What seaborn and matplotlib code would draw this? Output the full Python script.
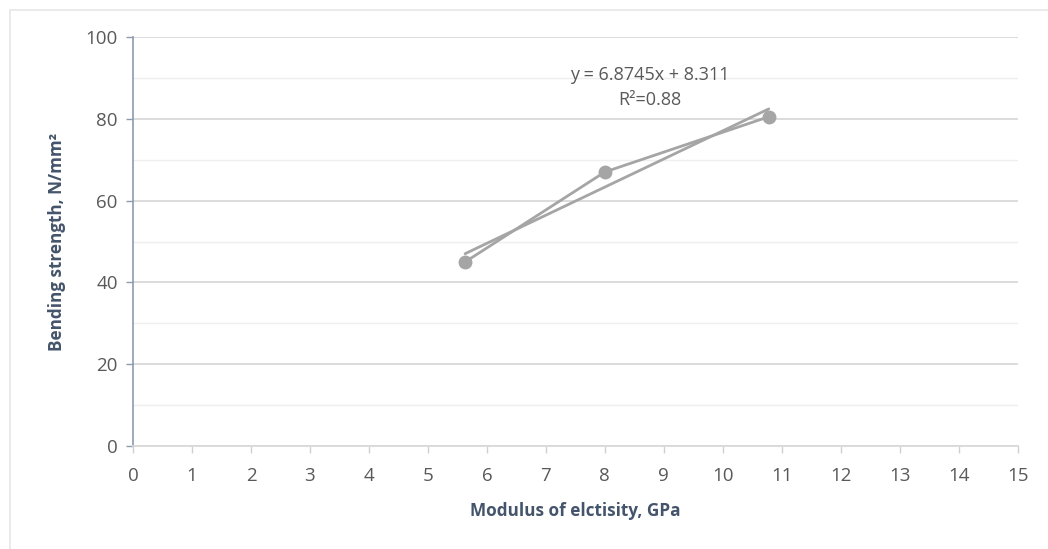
import matplotlib
matplotlib.use("Agg")
import matplotlib.pyplot as plt
import seaborn as sns
import pandas as pd
import numpy as np
from matplotlib.patches import Rectangle

# Data
modulus = [5.63, 8.0, 10.78]
strength = [45.0, 67.0, 80.5]
slope = 6.8745
intercept = 8.311
r2_text = "0.88"
x_ticks = list(range(0, 16))
y_ticks = [0, 20, 40, 60, 80, 100]

sns.set_theme(style="white")
plt.rcParams['font.family'] = ['Open Sans', 'DejaVu Sans']

fig = plt.figure(figsize=(10.48, 5.49), dpi=100)
ax = fig.add_axes([0.127, 0.1876, 0.844, 0.745])

# figure frame
fig.patches.append(Rectangle((10/1048, -0.01), 1.02, 1 - 10/549 + 0.01,
                             transform=fig.transFigure, fill=False,
                             edgecolor="#E6E6E6", linewidth=1.2))

df = pd.DataFrame({"x": modulus, "y": strength})
line_col = "#A5A5A5"
sns.lineplot(data=df, x="x", y="y", ax=ax, sort=False, color=line_col,
             linewidth=2.0, marker="o", markersize=10, markeredgewidth=0, zorder=3)

trend = pd.DataFrame({"x": [min(modulus), max(modulus)]})
trend["y"] = slope * trend["x"] + intercept
sns.lineplot(data=trend, x="x", y="y", ax=ax, color=line_col, linewidth=2.0, zorder=3)

ax.set_xlim(0, 15)
ax.set_ylim(0, 100)
ax.set_xticks(x_ticks)
ax.set_yticks(y_ticks)
ax.set_yticks([10, 30, 50, 70, 90], minor=True)
ax.grid(True, which="major", axis="y", color="#D9D9D9", linewidth=1.3)
ax.grid(True, which="minor", axis="y", color="#EFEFEF", linewidth=1.0)
ax.set_axisbelow(True)

for s in ["top", "right"]:
    ax.spines[s].set_visible(False)
ax.spines["left"].set_color("#8C9BB0")
ax.spines["left"].set_linewidth(1.2)
ax.spines["bottom"].set_color("#D9D9D9")
ax.spines["bottom"].set_linewidth(1.3)

ax.tick_params(axis="y", which="major", direction="out", length=5, width=1,
               color="#8C9BB0", labelsize=13.5, labelcolor="#595959", pad=6, left=True)
ax.tick_params(axis="y", which="minor", left=False)
ax.tick_params(axis="x", direction="out", length=5, width=1, color="#D0D0D0",
               labelsize=13.5, labelcolor="#595959", pad=10, bottom=True)

ax.set_xlabel("Modulus of elctisity, GPa", fontsize=12.3, fontweight="bold",
              color="#44546A", labelpad=12)
ax.set_ylabel("Bending strength, N/mm²", fontsize=12.3, fontweight="bold",
              color="#44546A", labelpad=14)

ax.text(8.76, 90.7, f"y = {slope}x + {intercept}", ha="center", va="center",
        fontsize=13, color="#595959")
ax.text(8.76, 84.6, f"R²={r2_text}", ha="center", va="center",
        fontsize=13, color="#595959")

fig.savefig("out.png", dpi=100, facecolor="white")
